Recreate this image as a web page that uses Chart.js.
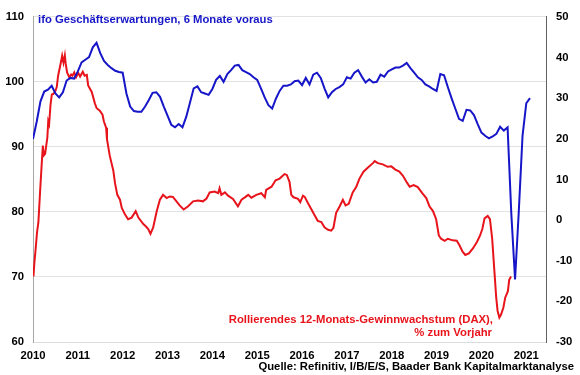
<!DOCTYPE html>
<html>
<head>
<meta charset="utf-8">
<script src="https://cdn.jsdelivr.net/npm/chart.js@4.4.1/dist/chart.umd.min.js"></script>
<style>
    html, body { margin: 0; padding: 0; background: #ffffff; }
    canvas { display: block; }
</style>
</head>
<body>
<canvas id="chart" width="580" height="375"></canvas>
<script>
// ifo business expectations, monthly, plotted 6 months ahead (first point = Jan 2010)
const ifoStartYear = 2010;
const ifoExpectations = [
    91.2, 93.9, 97.0, 98.5, 98.8, 99.4, 98.2, 97.6, 98.4, 100.2, 100.6, 100.5,
    101.6, 103.0, 103.4, 103.8, 105.3, 106.0, 104.4, 103.2, 102.6, 102.1, 101.7, 101.5,
    101.4, 98.2, 96.2, 95.5, 95.4, 95.4, 96.2, 97.2, 98.3, 98.4, 97.7, 96.2,
    94.8, 93.4, 93.0, 93.5, 93.0, 94.6, 96.8, 99.0, 99.3, 98.4, 98.2, 98.0,
    98.9, 100.3, 100.9, 100.0, 101.2, 101.8, 102.5, 102.6, 101.8, 101.5, 101.2, 100.7,
    100.3, 99.0, 97.6, 96.4, 95.9, 97.4, 98.6, 99.4, 99.4, 99.6, 100.1, 100.2,
    99.5, 100.6, 99.6, 101.1, 101.4, 100.6, 99.0, 97.6, 98.4, 98.9, 99.2, 99.6,
    100.7, 100.5, 101.4, 101.8, 100.8, 99.9, 100.4, 99.9, 100.0, 101.1, 100.8, 101.6,
    101.9, 102.2, 102.2, 102.5, 102.9, 102.1, 101.4, 100.7, 100.3, 99.6, 99.3, 98.9,
    98.6, 101.2, 101.0, 99.2, 97.5, 95.9, 94.3, 94.0, 95.7, 95.6, 94.9, 93.5,
    92.2, 91.7, 91.3, 91.6, 92.0, 93.1, 92.5, 93.0, 79.7, 69.6, 80.1, 91.7,
    96.7, 97.5
];

// Rolling 12-month earnings growth (DAX), % y/y - dates as decimal years
const earningsDates = [
    2010.01, 2010.03, 2010.06, 2010.09, 2010.12, 2010.16, 2010.19, 2010.22, 2010.24, 2010.27,
    2010.29, 2010.32, 2010.34, 2010.36, 2010.39, 2010.42, 2010.45, 2010.49, 2010.53, 2010.56,
    2010.62, 2010.65, 2010.68, 2010.71, 2010.73, 2010.76, 2010.81, 2010.85, 2010.88, 2010.92,
    2010.96, 2011.01, 2011.05, 2011.11, 2011.15, 2011.20, 2011.23, 2011.31, 2011.38, 2011.42,
    2011.49, 2011.55, 2011.58, 2011.63, 2011.65, 2011.71, 2011.79, 2011.83, 2011.88, 2011.94,
    2011.98, 2012.05, 2012.12, 2012.20, 2012.29, 2012.35, 2012.46, 2012.52, 2012.57, 2012.62,
    2012.68, 2012.76, 2012.83, 2012.90, 2012.98, 2013.05, 2013.12, 2013.20, 2013.27, 2013.36,
    2013.46, 2013.57, 2013.68, 2013.79, 2013.87, 2013.94, 2014.05, 2014.13, 2014.16, 2014.20,
    2014.28, 2014.35, 2014.46, 2014.57, 2014.65, 2014.74, 2014.80, 2014.87, 2014.98, 2015.09,
    2015.17, 2015.20, 2015.32, 2015.41, 2015.50, 2015.61, 2015.66, 2015.72, 2015.76, 2015.81,
    2015.91, 2015.96, 2016.02, 2016.06, 2016.13, 2016.21, 2016.28, 2016.35, 2016.43, 2016.50,
    2016.58, 2016.65, 2016.70, 2016.76, 2016.84, 2016.91, 2016.97, 2017.04, 2017.13, 2017.21,
    2017.28, 2017.37, 2017.47, 2017.58, 2017.62, 2017.69, 2017.80, 2017.91, 2017.99, 2018.08,
    2018.17, 2018.25, 2018.34, 2018.40, 2018.49, 2018.58, 2018.68, 2018.77, 2018.84, 2018.92,
    2018.99, 2019.05, 2019.10, 2019.18, 2019.25, 2019.36, 2019.45, 2019.51, 2019.58, 2019.64,
    2019.72, 2019.81, 2019.90, 2019.97, 2020.02, 2020.07, 2020.14, 2020.19, 2020.24, 2020.29,
    2020.33, 2020.36, 2020.40, 2020.44, 2020.49, 2020.53, 2020.59, 2020.62, 2020.66
];
const earningsGrowth = [
    -13.9, -10.6, -7.0, -3.0, -0.6, 7.4, 13.0, 18.3, 15.9, 16.3,
    17.9, 20.3, 24.3, 23.6, 28.3, 30.9, 31.0, 31.5, 32.7, 35.5,
    38.7, 40.4, 38.7, 40.5, 38.4, 36.3, 35.1, 35.8, 35.5, 36.3,
    35.1, 36.2, 35.3, 36.5, 35.5, 35.7, 33.1, 31.5, 28.7, 27.5,
    26.9, 25.9, 24.3, 22.7, 19.9, 15.9, 12.2, 9.0, 6.2, 5.0,
    3.0, 1.4, 0.2, 0.6, 2.2, 0.6, -1.0, -1.6, -2.2, -3.4,
    -1.8, 2.2, 5.0, 6.2, 5.4, 5.8, 5.7, 4.6, 3.6, 2.6,
    3.4, 4.6, 4.8, 4.6, 5.3, 6.8, 7.0, 6.6, 7.8, 6.2,
    6.8, 6.0, 5.2, 3.4, 5.0, 5.7, 6.2, 5.5, 6.2, 6.6,
    5.6, 7.4, 8.2, 9.8, 10.2, 11.3, 11.1, 9.4, 6.2, 5.6,
    5.2, 4.4, 6.0, 5.7, 4.2, 2.6, 1.2, -0.2, -0.5, -1.8,
    -2.4, -2.6, -1.9, 1.8, 3.4, 5.0, 3.6, 4.0, 6.8, 8.2,
    10.2, 11.9, 12.9, 14.0, 14.5, 14.0, 13.7, 13.1, 13.2, 12.4,
    11.9, 10.9, 9.2, 8.2, 8.6, 8.1, 6.6, 5.4, 3.4, 2.2,
    0.2, -3.8, -4.6, -5.1, -4.6, -5.0, -5.1, -6.2, -7.8, -8.6,
    -8.2, -7.0, -5.4, -3.8, -2.2, 0.4, 1.0, 0.2, -4.6, -12.7,
    -19.1, -22.3, -24.0, -23.2, -21.5, -19.1, -17.5, -14.7, -13.9
];

const BLUE = '#1616c8';
const RED = '#e8141c';
const FONT = '"Liberation Sans", Arial, sans-serif';

const ifoPoints = ifoExpectations.map((v, i) => ({ x: ifoStartYear + i / 12, y: v }));
const earningsPoints = earningsGrowth.map((v, i) => ({ x: earningsDates[i], y: v }));

// Text annotations (series labels and source line)
const textPlugin = {
    id: 'chartTexts',
    afterDraw(chart) {
        const ctx = chart.ctx;
        ctx.save();
        ctx.font = 'bold 11.3px ' + FONT;
        ctx.textBaseline = 'middle';

        ctx.fillStyle = BLUE;
        ctx.textAlign = 'left';
        ctx.fillText('ifo Geschäftserwartungen, 6 Monate voraus', 38, 20);

        ctx.fillStyle = RED;
        ctx.textAlign = 'right';
        ctx.fillText('Rollierendes 12-Monats-Gewinnwachstum (DAX),', 493, 320);
        ctx.fillText('% zum Vorjahr', 492, 333);

        ctx.fillStyle = '#000000';
        ctx.fillText('Quelle: Refinitiv, I/B/E/S, Baader Bank Kapitalmarktanalyse', 574, 367);
        ctx.restore();
    }
};

new Chart(document.getElementById('chart'), {
    type: 'line',
    data: {
        datasets: [
            {
                label: 'ifo Geschäftserwartungen, 6 Monate voraus',
                data: ifoPoints,
                yAxisID: 'y',
                borderColor: BLUE,
                borderWidth: 2,
                pointRadius: 0,
                tension: 0
            },
            {
                label: 'Rollierendes 12-Monats-Gewinnwachstum (DAX), % zum Vorjahr',
                data: earningsPoints,
                yAxisID: 'y1',
                borderColor: RED,
                borderWidth: 2,
                pointRadius: 0,
                tension: 0
            }
        ]
    },
    options: {
        responsive: false,
        animation: false,
        events: [],
        layout: { padding: { top: 10, left: 0, right: 0, bottom: 0 } },
        plugins: {
            legend: { display: false },
            tooltip: { enabled: false }
        },
        scales: {
            x: {
                type: 'linear',
                min: 2010,
                max: 2021.44,
                afterFit: (scale) => { scale.height = 33; },
                grid: { display: false, drawTicks: false },
                border: { display: true, color: '#dcdcdc', width: 1 },
                ticks: {
                    stepSize: 1,
                    includeBounds: false,
                    padding: 7,
                    maxRotation: 0,
                    color: '#000000',
                    font: { family: FONT, size: 11.3, weight: 'bold' },
                    callback: (value) => String(value)
                }
            },
            y: {
                position: 'left',
                min: 60,
                max: 110,
                afterFit: (scale) => { scale.width = 33; },
                grid: { color: '#e2e2e2', drawTicks: false },
                border: { display: true, color: '#a8a8a8', width: 1 },
                ticks: {
                    stepSize: 10,
                    padding: 9,
                    color: '#000000',
                    font: { family: FONT, size: 11.3, weight: 'bold' }
                }
            },
            y1: {
                position: 'right',
                min: -30,
                max: 50,
                afterFit: (scale) => { scale.width = 34; },
                grid: { drawOnChartArea: false, drawTicks: false },
                border: { display: true, color: '#606060', width: 1 },
                ticks: {
                    stepSize: 10,
                    padding: 10,
                    color: '#000000',
                    font: { family: FONT, size: 11.3, weight: 'bold' }
                }
            }
        }
    },
    plugins: [textPlugin]
});
</script>
</body>
</html>
